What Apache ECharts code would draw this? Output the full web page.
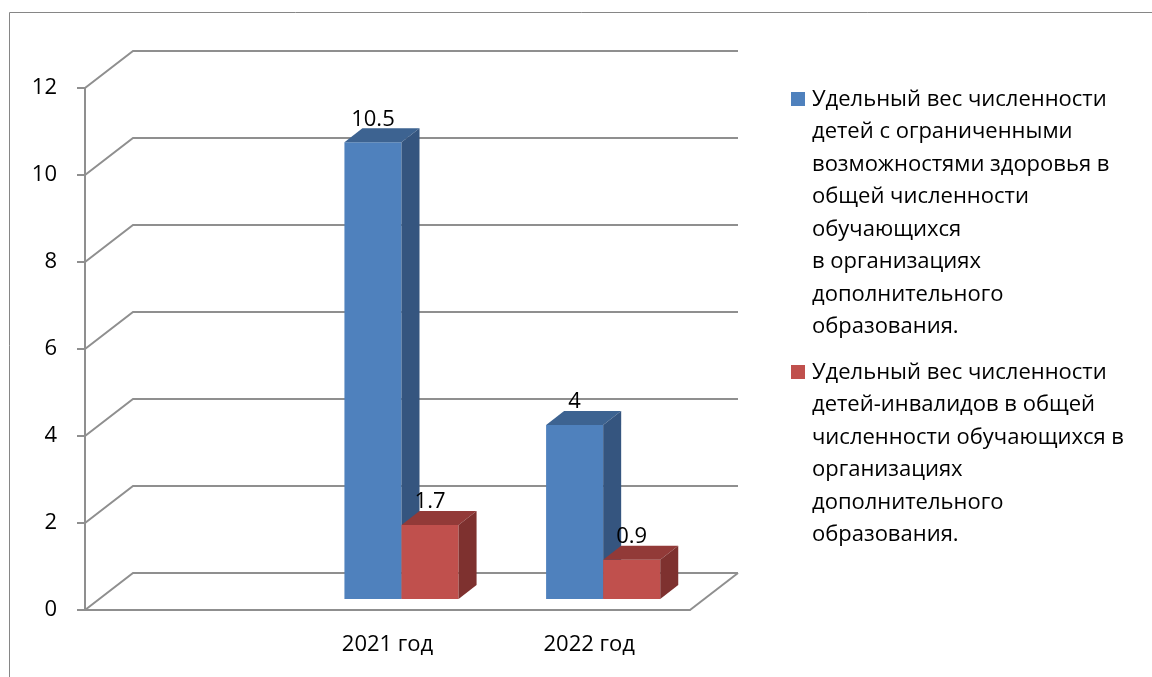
<!DOCTYPE html>
<html style="height: 100%;">
<head>
    <meta charset="UTF-8">
    <script src="https://cdn.jsdelivr.net/npm/echarts/dist/echarts.min.js"></script>
</head>
<body style="height: 100%; margin: 0; background: #fff;">
    <div id="chart" style="width: 1152px; height: 677px;"></div>

    <script type="text/javascript">
        // chart data
        var categories = ['', '2021 год', '2022 год'];
        var valuesOvz = [null, 10.5, 4];
        var valuesInv = [null, 1.7, 0.9];
        var yTicks = [0, 2, 4, 6, 8, 10, 12];
        var seriesNames = [
            'Удельный вес численности\nдетей с ограниченными\nвозможностями здоровья в\nобщей численности\nобучающихся\nв организациях\nдополнительного\nобразования.',
            'Удельный вес численности\nдетей-инвалидов в общей\nчисленности обучающихся в\nорганизациях\nдополнительного\nобразования.'
        ];

        var FONT = '"Open Sans"';
        var gridColor = '#8f8f8f';
        // 3d look: wall depth and bar placement inside it
        var wallDx = 48, wallDy = -37;
        var frontDx = 14, frontDy = -11;
        var depthDx = 18, depthDy = -14;
        var barRatio = 0.283;

        var colors = [
            { front: '#4F81BD', top: '#3D6391', side: '#35557F' },
            { front: '#C0504D', top: '#923A38', side: '#7E312F' }
        ];

        function toData(arr) {
            return arr.map(function (v, i) { return [i, v]; })
                      .filter(function (d) { return d[1] != null; });
        }

        function wallItem(params, api) {
            var cs = params.coordSys;
            var y = api.coord([0, api.value(1)])[1];
            var x0 = cs.x, x1 = cs.x + cs.width;
            var style = { stroke: gridColor, lineWidth: 2, fill: null };
            var children = [{
                type: 'polyline',
                shape: { points: [[x0, y], [x0 + wallDx, y + wallDy], [x1 + wallDx, y + wallDy]] },
                style: style
            }];
            if (api.value(1) === 0) {
                children.push({
                    type: 'line',
                    shape: { x1: x1, y1: y, x2: x1 + wallDx, y2: y + wallDy },
                    style: style
                });
            }
            return { type: 'group', children: children };
        }

        function barRenderer(idx) {
            var c = colors[idx];
            return function (params, api) {
                var base = api.coord([api.value(0), 0]);
                var top = api.coord([api.value(0), api.value(1)]);
                var bw = api.size([1, 0])[0] * barRatio;
                var xl = base[0] - bw + idx * bw + frontDx;
                var xr = xl + bw;
                var yb = base[1] + frontDy;
                var yt = top[1] + frontDy;
                return {
                    type: 'group',
                    children: [
                        { type: 'rect', shape: { x: xl, y: yt, width: bw, height: yb - yt }, style: { fill: c.front } },
                        { type: 'polygon', shape: { points: [[xl, yt], [xl + depthDx, yt + depthDy], [xr + depthDx, yt + depthDy], [xr, yt]] }, style: { fill: c.top } },
                        { type: 'polygon', shape: { points: [[xr, yt], [xr + depthDx, yt + depthDy], [xr + depthDx, yb + depthDy], [xr, yb]] }, style: { fill: c.side } },
                        { type: 'text', x: (xl + xr) / 2, y: yt + depthDy + 2,
                          style: { text: String(api.value(1)), fill: '#000', font: '22px ' + FONT, align: 'center', verticalAlign: 'bottom' } }
                    ]
                };
            };
        }

        function legendGraphics() {
            var out = [];
            var tops = [92, 365];
            var fills = [colors[0].front, colors[1].front];
            for (var i = 0; i < 2; i++) {
                out.push({ type: 'rect', left: 791, top: tops[i], shape: { width: 14, height: 14 }, style: { fill: fills[i] } });
                out.push({ type: 'text', left: 812, top: tops[i] - 9,
                    style: { text: seriesNames[i], fill: '#000', font: '22px ' + FONT, lineHeight: 32.5 } });
            }
            out.push({ type: 'rect', shape: { x: 9.5, y: 12.5, width: 1300, height: 800 }, style: { fill: null, stroke: '#868686', lineWidth: 1 }, z: -10 });
            return out;
        }

        var chart = echarts.init(document.getElementById('chart'));
        var option = {
            animation: false,
            grid: { left: 85, right: 462, top: 88, bottom: 67 },
            xAxis: {
                type: 'category',
                data: categories,
                axisLine: { lineStyle: { color: gridColor, width: 2 } },
                axisTick: { length: 7, lineStyle: { color: gridColor, width: 2 } },
                axisLabel: { color: '#000', fontFamily: FONT, fontSize: 22, margin: 24 }
            },
            yAxis: {
                type: 'value',
                min: 0, max: 12, interval: 2,
                axisLine: { show: true, lineStyle: { color: gridColor, width: 2 } },
                axisTick: { show: true, length: 8, lineStyle: { color: gridColor, width: 2 } },
                axisLabel: { color: '#000', fontFamily: FONT, fontSize: 22, margin: 28 },
                splitLine: { show: false }
            },
            graphic: legendGraphics(),
            series: [
                { type: 'custom', name: 'walls', data: yTicks.map(function (v) { return [0, v]; }), renderItem: wallItem, z: 1, silent: true },
                { type: 'custom', name: seriesNames[0], data: toData(valuesOvz), renderItem: barRenderer(0), z: 2 },
                { type: 'custom', name: seriesNames[1], data: toData(valuesInv), renderItem: barRenderer(1), z: 3 }
            ]
        };
        chart.setOption(option);
    </script>
</body>
</html>
